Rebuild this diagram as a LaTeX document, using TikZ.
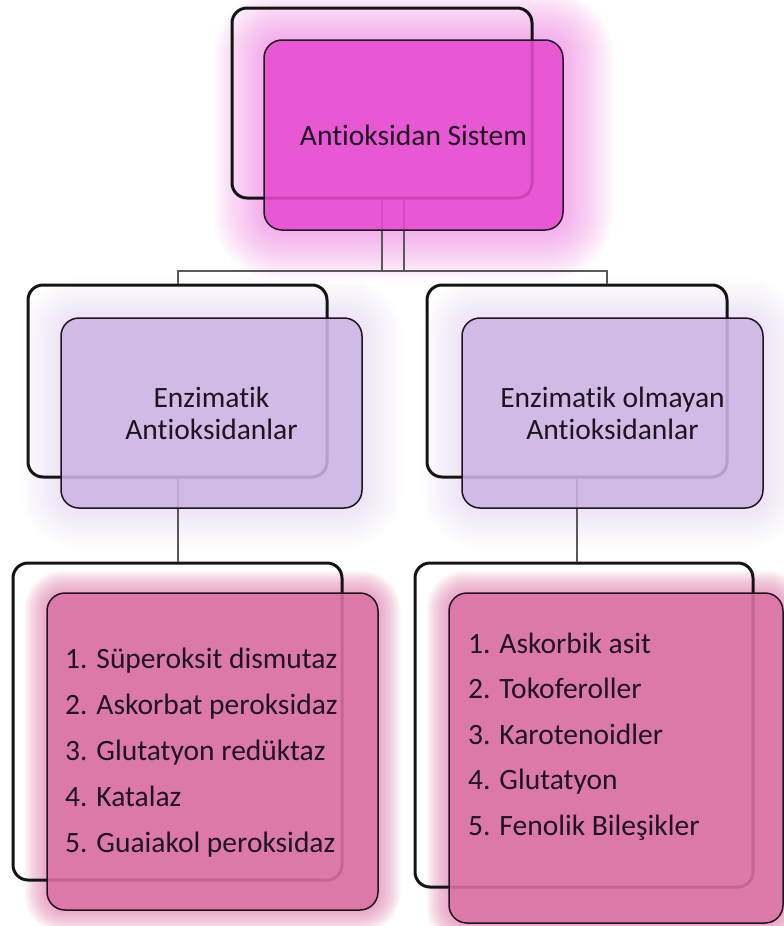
\documentclass[tikz,border=0pt]{standalone}
\usepackage{fontspec}
\setmainfont{Carlito}[Ligatures=NoCommon]
\usetikzlibrary{calc,backgrounds}
\definecolor{topfill}{RGB}{230,75,210}
\definecolor{midfill}{RGB}{205,180,228}
\definecolor{botfill}{RGB}{219,114,164}
\definecolor{ink}{RGB}{30,20,32}
\begin{document}
\begin{tikzpicture}[x=1pt,y=-1pt,
    back/.style={draw=black!92, line width=3pt, rounded corners=15pt, inner sep=0pt},
    front/.style={draw=ink, line width=1.5pt, rounded corners=18pt, inner sep=0pt,
      fill opacity=0.88, text opacity=1, text=ink, align=center,
      font=\fontsize{29.5}{32}\selectfont},
    item/.style={anchor=base west, inner sep=0pt, text=ink, font=\fontsize{29.5}{36}\selectfont},
    link/.style={draw=black!65, line width=2pt}]
  \useasboundingbox (0,0) rectangle (784,926);
  % back boxes
  \node[back, minimum width=300pt, minimum height=190pt] (sysback) at (382,103) {};
  \node[back, minimum width=299pt, minimum height=192pt] (enzback) at (177.5,381) {};
  \node[back, minimum width=300pt, minimum height=192pt] (nonback) at (577,381) {};
  \node[back, minimum width=329pt, minimum height=317pt] (enzlistback) at (177.5,721.5) {};
  \node[back, minimum width=338pt, minimum height=324pt] (nonlistback) at (584,725) {};
  % connectors
  \coordinate (barL) at (178,271);
  \coordinate (barR) at (607,271);
  \coordinate (sysside) at ([xshift=22pt]sysback.south);
  \begin{scope}[link]
    \draw (sysback.south) -- (sysback.south |- barL);
    \draw (sysside) -- (sysside |- barL);
    \draw (enzback.north) -- (enzback.north |- barL) -- (barR) -- (barR |- nonback.north);
    \draw (enzback.south) -- (enzback.south |- enzlistback.north);
    \draw (nonback.south) -- (nonback.south |- nonlistback.north);
  \end{scope}
  % front boxes
  \node[front, fill=topfill, minimum width=299pt, minimum height=190pt] (sys) at (413.5,135) {Antioksidan Sistem};
  \node[front, fill=midfill, minimum width=301pt, minimum height=190pt] (enz) at (211.5,413) {Enzimatik\\Antioksidanlar};
  \node[front, fill=midfill, minimum width=301pt, minimum height=190pt] (non) at (612.5,413) {Enzimatik olmayan\\Antioksidanlar};
  \node[front, fill=botfill, minimum width=331pt, minimum height=317pt] (enzlist) at (212.5,751.5) {};
  \node[front, fill=botfill, minimum width=334pt, minimum height=330pt] (nonlist) at (616,758) {};
  % lists
  \foreach \t [count=\i] in {Süperoksit dismutaz, Askorbat peroksidaz, Glutatyon redüktaz, Katalaz, Guaiakol peroksidaz}
    \node[item] (e\i) at (65,{668+46*(\i-1)}) {\i. \t};
  \foreach \t [count=\i] in {Askorbik asit, Tokoferoller, Karotenoidler, Glutatyon, Fenolik Bileşikler}
    \node[item] (n\i) at (468,{653+45.5*(\i-1)}) {\i. \t};
  % glow
  \begin{scope}[on background layer]
    \foreach \nm/\col/\st/\op in {sys/topfill/2.5/0.026, enz/midfill/2/0.02, non/midfill/2/0.02, enzlist/botfill/1.1/0.045, nonlist/botfill/1.1/0.045}
      \foreach \g in {1,...,20} {
        \pgfmathsetmacro\ds{\g*\st}
        \pgfmathsetmacro\rr{18+\g*\st}
        \fill[\col, opacity=\op, rounded corners=\rr pt] ($(\nm.north west)+(-\ds,-\ds)$) rectangle ($(\nm.south east)+(\ds,\ds)$);
      }
  \end{scope}
\end{tikzpicture}
\end{document}
